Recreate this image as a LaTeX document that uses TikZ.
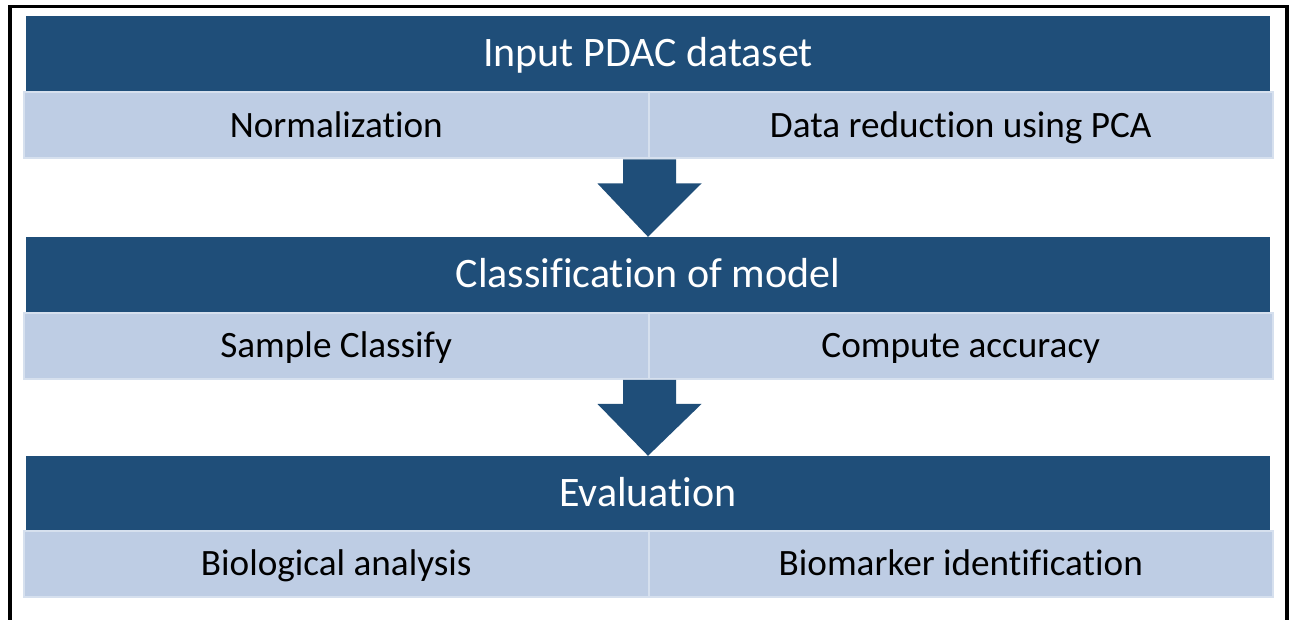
\documentclass[tikz,border=0pt]{standalone}
\usepackage{fontspec}
\setmainfont{Carlito}[Ligatures=NoCommon]
\usetikzlibrary{positioning,calc}
\definecolor{headblue}{RGB}{31,78,121}
\definecolor{rowblue}{RGB}{190,205,228}
\definecolor{rowedge}{RGB}{214,224,238}
\newcommand{\flowarrow}[2]{%
  \fill[headblue] ($(#1)+(-26.5,0)$) -- ($(#1)+(26.5,0)$) -- ($(#1)+(26.5,24)$)
    -- ($(#1)+(52,24)$) -- (#2) -- ($(#1)+(-52,24)$) -- ($(#1)+(-26.5,24)$) -- cycle;}

\begin{document}
\begin{tikzpicture}[x=1pt,y=-1pt,
  head/.style = {fill=headblue, text=white, inner sep=0pt,
    minimum width=1244pt, minimum height=75pt,
    text height=25.5pt, text depth=0pt,
    font=\fontsize{42}{50}\selectfont},
  cell/.style = {fill=rowblue, draw=rowedge, line width=2pt, inner sep=0pt,
    minimum width=624.5pt, minimum height=66pt,
    text height=23.5pt, text depth=0pt,
    font=\fontsize{37.2}{45}\selectfont}
  ]
  \useasboundingbox (0,0) rectangle (1294,620);
  \draw[line width=3.5pt] (10,630) -- (10,6.5) -- (1287,6.5) -- (1287,630);

  % first stage
  \node[head] (inputhead) at (648,53.5) {Input PDAC dataset};
  \node[cell] (norm) at (336.25,125.5) {Normalization};
  \node[cell] (pca) at (960.75,125.5) {Data reduction using PCA};

  % second stage
  \node[head] (classhead) at (648,274.5) {Classification of model};
  \node[cell] (sample) at (336.25,346) {Sample Classify};
  \node[cell] (accuracy) at (960.75,346) {Compute accuracy};

  % third stage
  \node[head] (evalhead) at (648,493.5) {Evaluation};
  \node[cell] (bio) at (336.25,564) {Biological analysis};
  \node[cell] (marker) at (960.75,564) {Biomarker identification};

  \flowarrow{norm.south east}{classhead.north}
  \flowarrow{sample.south east}{evalhead.north}
\end{tikzpicture}
\end{document}
